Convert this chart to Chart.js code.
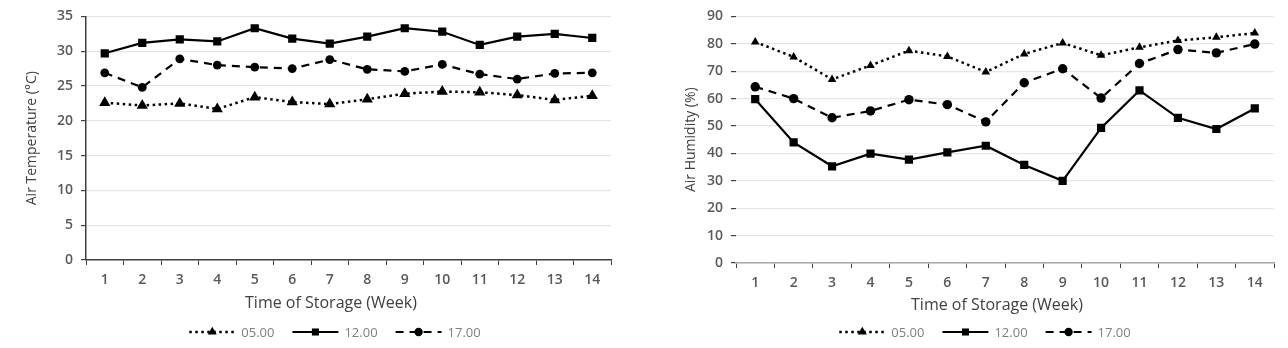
<!DOCTYPE html>
<html>
<head>
<meta charset="utf-8">
<script src="https://cdn.jsdelivr.net/npm/chart.js@4.4.1/dist/chart.umd.min.js"></script>
<style>
  html, body { margin: 0; padding: 0; background: #fff; }
  body { width: 1288px; height: 348px; position: relative; overflow: hidden; }
  .box { position: absolute; top: 0; width: 644px; height: 348px; }
  #left-box { left: 0; }
  #right-box { left: 644px; }
</style>
</head>
<body>
<div class="box" id="left-box"><canvas id="tempChart"></canvas></div>
<div class="box" id="right-box"><canvas id="humChart"></canvas></div>
<script>
// data
const weeks = ['1', '2', '3', '4', '5', '6', '7', '8', '9', '10', '11', '12', '13', '14'];
const seriesNames = ['05.00', '12.00', '17.00'];

const tempAt05 = [22.6, 22.2, 22.5, 21.7, 23.4, 22.7, 22.4, 23.1, 23.9, 24.2, 24.1, 23.7, 23.0, 23.6];
const tempAt12 = [29.7, 31.2, 31.7, 31.4, 33.3, 31.8, 31.1, 32.1, 33.3, 32.8, 30.9, 32.1, 32.5, 31.9];
const tempAt17 = [26.9, 24.8, 28.9, 28.0, 27.7, 27.5, 28.8, 27.4, 27.1, 28.1, 26.7, 26.0, 26.8, 26.9];

const humAt05 = [80.7, 75.2, 67.0, 72.1, 77.5, 75.4, 69.7, 76.3, 80.3, 75.8, 78.7, 81.2, 82.4, 83.9];
const humAt12 = [59.8, 44.0, 35.3, 39.9, 37.7, 40.4, 42.8, 35.8, 30.0, 49.3, 63.0, 53.0, 48.9, 56.4];
const humAt17 = [64.3, 60.0, 53.0, 55.5, 59.6, 57.8, 51.5, 65.8, 70.9, 60.2, 72.8, 77.9, 76.7, 79.9];

const tempTicks = [0, 5, 10, 15, 20, 25, 30, 35];
const humTicks = [0, 10, 20, 30, 40, 50, 60, 70, 80, 90];

const FONT = '"Open Sans", "Liberation Sans", sans-serif';

// x title + legend with line style and marker, drawn under the axis
const bottomText = {
    id: 'bottomText',
    afterDraw(chart, args, opts) {
        const ctx = chart.ctx;
        ctx.save();
        ctx.fillStyle = '#404040';
        ctx.font = '16px ' + FONT;
        ctx.textAlign = 'center';
        ctx.textBaseline = 'middle';
        ctx.fillText(opts.xTitle, opts.titleX, opts.titleY);

        ctx.font = '13px ' + FONT;
        const lineLen = 46, textGap = 6, itemGap = 18;
        const items = chart.data.datasets.map(ds => ({ ds, w: ctx.measureText(ds.label).width }));
        const total = items.reduce((s, it) => s + lineLen + textGap + it.w, 0) + itemGap * (items.length - 1);
        let x = opts.legendX - total / 2;
        const y = opts.legendY;
        items.forEach(({ ds, w }) => {
            ctx.strokeStyle = ds.borderColor;
            ctx.lineWidth = ds.borderWidth;
            ctx.setLineDash(ds.borderDash || []);
            ctx.beginPath();
            ctx.moveTo(x, y);
            ctx.lineTo(x + lineLen, y);
            ctx.stroke();
            ctx.setLineDash([]);
            ctx.fillStyle = '#000';
            Chart.helpers.drawPoint(ctx, { pointStyle: ds.pointStyle, radius: opts.markerRadius[ds.pointStyle], rotation: 0, borderWidth: 0 }, x + lineLen / 2, y);
            ctx.fillStyle = '#7f7f7f';
            ctx.textAlign = 'left';
            ctx.fillText(ds.label, x + lineLen + textGap, y + 1);
            x += lineLen + textGap + w + itemGap;
        });
        ctx.restore();
    }
};

function makeDatasets(a, b, c, sizes) {
    return [
        { label: seriesNames[0], data: a, borderColor: '#000', borderWidth: 2.5, borderDash: [2.5, 3.5],
          pointStyle: 'triangle', pointRadius: sizes[0], pointBackgroundColor: '#000', pointBorderWidth: 0 },
        { label: seriesNames[1], data: b, borderColor: '#000', borderWidth: 2.2,
          pointStyle: 'rect', pointRadius: sizes[1], pointBackgroundColor: '#000', pointBorderWidth: 0 },
        { label: seriesNames[2], data: c, borderColor: '#000', borderWidth: 2.2, borderDash: [8, 6],
          pointStyle: 'circle', pointRadius: sizes[2], pointBackgroundColor: '#000', pointBorderWidth: 0 }
    ];
}

function makeChart(id, cfg) {
    const el = document.getElementById(id);
    el.width = 644;
    el.height = 348;
    return new Chart(el.getContext('2d'), {
        type: 'line',
        data: { labels: weeks, datasets: cfg.datasets },
        plugins: [bottomText],
        options: {
            responsive: false,
            animation: false,
            devicePixelRatio: 1,
            layout: { padding: { top: 15, right: cfg.padRight, bottom: 0, left: 0 } },
            elements: { line: { tension: 0 } },
            plugins: {
                legend: { display: false },
                tooltip: { enabled: false },
                bottomText: cfg.bottom
            },
            scales: {
                x: {
                    offset: true,
                    afterFit(scale) { scale.height = cfg.xHeight; },
                    grid: { display: true, drawOnChartArea: false, drawTicks: true, offset: true, tickLength: 5, tickColor: '#404040' },
                    border: { display: true, color: cfg.xBorder, width: 1.5 },
                    ticks: { padding: 7, color: '#595959', font: { family: FONT, size: 14, weight: '600' } }
                },
                y: {
                    min: cfg.ticks[0],
                    max: cfg.ticks[cfg.ticks.length - 1],
                    afterFit(scale) { scale.width = cfg.yWidth; },
                    afterBuildTicks(scale) { scale.ticks = cfg.ticks.map(v => ({ value: v })); },
                    grid: { color: '#e6e6e6', lineWidth: 1.2, tickLength: 5, tickColor: '#404040' },
                    border: { display: cfg.yBorder, color: '#404040', width: 1.5 },
                    ticks: { padding: 8, color: '#595959', font: { family: FONT, size: 14, weight: '600' } },
                    title: { display: true, text: cfg.yTitle, color: '#404040', padding: { top: cfg.yTitlePad, bottom: 0 },
                             font: { family: FONT, size: 14 } }
                }
            }
        }
    });
}

makeChart('tempChart', {
    datasets: makeDatasets(tempAt05, tempAt12, tempAt17, [6.5, 5.8, 4.4]),
    ticks: tempTicks,
    yTitle: 'Air Temperature (°C)',
    yTitlePad: 24,
    yWidth: 86,
    padRight: 33,
    xHeight: 88,
    yBorder: true,
    xBorder: '#404040',
    bottom: { xTitle: 'Time of Storage (Week)', titleX: 331, titleY: 303, legendX: 335, legendY: 332,
              markerRadius: { triangle: 5.2, rect: 5, circle: 4.2 } }
});

makeChart('humChart', {
    datasets: makeDatasets(humAt05, humAt12, humAt17, [5, 5.8, 4.7]),
    ticks: humTicks,
    yTitle: 'Air Humidity (%)',
    yTitlePad: 39,
    yWidth: 92,
    padRight: 14,
    xHeight: 85,
    yBorder: false,
    xBorder: '#a6a6a6',
    bottom: { xTitle: 'Time of Storage (Week)', titleX: 353, titleY: 305, legendX: 341, legendY: 332,
              markerRadius: { triangle: 5.2, rect: 5, circle: 4.2 } }
});
</script>
</body>
</html>
